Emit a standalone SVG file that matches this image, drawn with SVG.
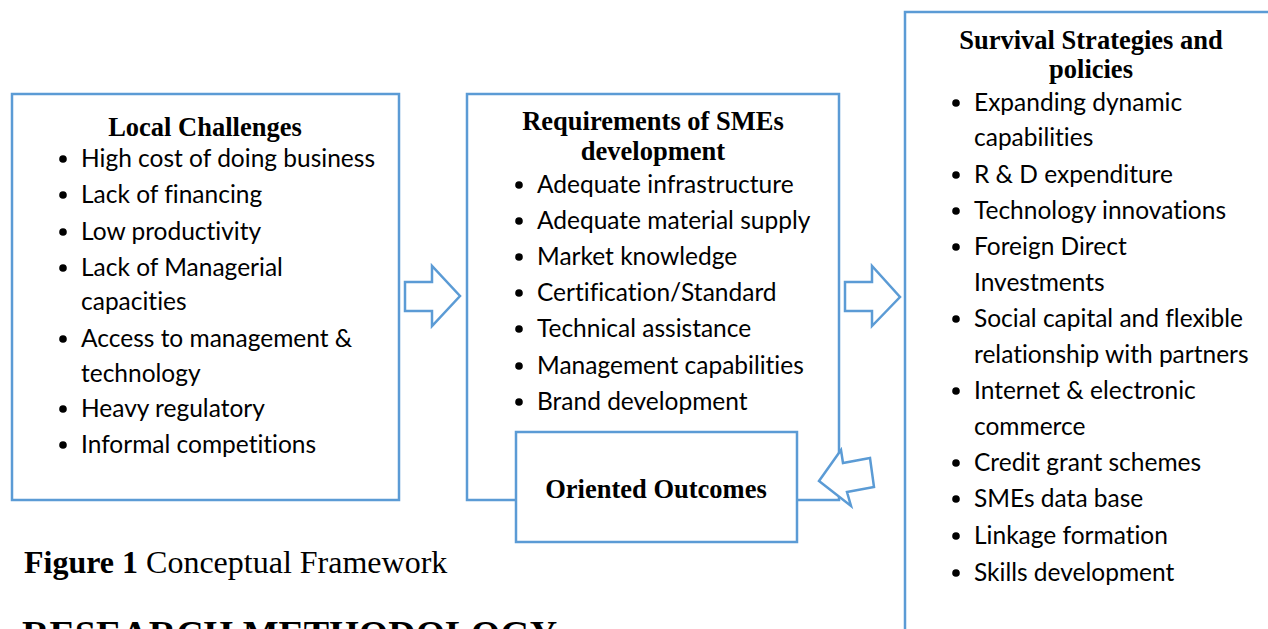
<svg xmlns="http://www.w3.org/2000/svg" width="1268" height="629" viewBox="0 0 1268 629">
<style>
.box{fill:#fff;stroke:#5B9BD5;stroke-width:2.5}
.arr{fill:#fff;stroke:#5B9BD5;stroke-width:2.5;stroke-linejoin:miter}
.title{font-family:"Liberation Serif",serif;font-weight:bold;font-size:26.5px;fill:#000;text-anchor:middle}
.item{font-family:Lato,"Liberation Sans",sans-serif;font-size:24.5px;fill:#000;font-variant-ligatures:none}
.cap{font-family:"Liberation Serif",serif;font-size:32px;fill:#000}
.head{font-family:"Liberation Serif",serif;font-size:38px;font-weight:bold;fill:#000}
</style>
<rect width="1268" height="629" fill="#fff"/>
<g id="local-challenges">
<rect class="box" x="12" y="94" width="387" height="406"/>
<text class="title" x="205" y="136">Local Challenges</text>
<g fill="#000">
<circle cx="63" cy="159" r="3.8"/><circle cx="63" cy="195" r="3.8"/><circle cx="63" cy="232" r="3.8"/><circle cx="63" cy="268" r="3.8"/><circle cx="63" cy="339" r="3.8"/><circle cx="63" cy="409" r="3.8"/><circle cx="63" cy="445" r="3.8"/>
</g>
<text class="item" x="81" y="167">High cost of doing business</text>
<text class="item" x="81" y="203">Lack of financing</text>
<text class="item" x="81" y="240">Low productivity</text>
<text class="item" x="81" y="276">Lack of Managerial</text>
<text class="item" x="81" y="310">capacities</text>
<text class="item" x="81" y="347">Access to management &amp;</text>
<text class="item" x="81" y="382">technology</text>
<text class="item" x="81" y="417">Heavy regulatory</text>
<text class="item" x="81" y="453">Informal competitions</text>
</g>
<g id="requirements">
<rect class="box" x="467" y="94" width="372" height="406"/>
<text class="title" x="653" y="130">Requirements of SMEs</text>
<text class="title" x="653" y="160">development</text>
<g fill="#000">
<circle cx="519" cy="185" r="3.8"/><circle cx="519" cy="221" r="3.8"/><circle cx="519" cy="257" r="3.8"/><circle cx="519" cy="293" r="3.8"/><circle cx="519" cy="329" r="3.8"/><circle cx="519" cy="366" r="3.8"/><circle cx="519" cy="402" r="3.8"/><circle cx="519" cy="438" r="3.8"/>
</g>
<text class="item" x="537" y="193">Adequate infrastructure</text>
<text class="item" x="537" y="229">Adequate material supply</text>
<text class="item" x="537" y="265">Market knowledge</text>
<text class="item" x="537" y="301">Certification/Standard</text>
<text class="item" x="537" y="337">Technical assistance</text>
<text class="item" x="537" y="374">Management capabilities</text>
<text class="item" x="537" y="410">Brand development</text>
</g>
<g id="oriented-outcomes">
<rect class="box" x="516" y="432" width="281" height="110"/>
<text class="title" x="656" y="498">Oriented Outcomes</text>
</g>
<g id="survival-strategies">
<rect class="box" x="905" y="12" width="400" height="650"/>
<text class="title" x="1091" y="49">Survival Strategies and</text>
<text class="title" x="1091" y="78">policies</text>
<g fill="#000">
<circle cx="956" cy="103" r="3.8"/><circle cx="956" cy="175" r="3.8"/><circle cx="956" cy="211" r="3.8"/><circle cx="956" cy="247" r="3.8"/><circle cx="956" cy="319" r="3.8"/><circle cx="956" cy="391" r="3.8"/><circle cx="956" cy="463" r="3.8"/><circle cx="956" cy="499" r="3.8"/><circle cx="956" cy="536" r="3.8"/><circle cx="956" cy="573" r="3.8"/>
</g>
<text class="item" x="974" y="111">Expanding dynamic</text>
<text class="item" x="974" y="146">capabilities</text>
<text class="item" x="974" y="183">R &amp; D expenditure</text>
<text class="item" x="974" y="219">Technology innovations</text>
<text class="item" x="974" y="255">Foreign Direct</text>
<text class="item" x="974" y="291">Investments</text>
<text class="item" x="974" y="327">Social capital and flexible</text>
<text class="item" x="974" y="363">relationship with partners</text>
<text class="item" x="974" y="399">Internet &amp; electronic</text>
<text class="item" x="974" y="435">commerce</text>
<text class="item" x="974" y="471">Credit grant schemes</text>
<text class="item" x="974" y="507">SMEs data base</text>
<text class="item" x="974" y="544">Linkage formation</text>
<text class="item" x="974" y="581">Skills development</text>
</g>
<g id="connectors">
<polygon class="arr" points="405,282 432,282 432,266 460,296 432,326 432,311 405,311"/>
<polygon class="arr" points="845,282 872,282 872,266 900,297 872,326 872,311 845,311"/>
<polygon class="arr" points="819,481 841,450 843,463 870,458 874,487 847,492 851,506"/>
</g>
<g id="caption">
<text class="cap" x="24" y="573"><tspan font-weight="bold">Figure 1</tspan> Conceptual Framework</text>
<text class="head" x="22" y="647">RESEARCH METHODOLOGY</text>
</g>
</svg>
